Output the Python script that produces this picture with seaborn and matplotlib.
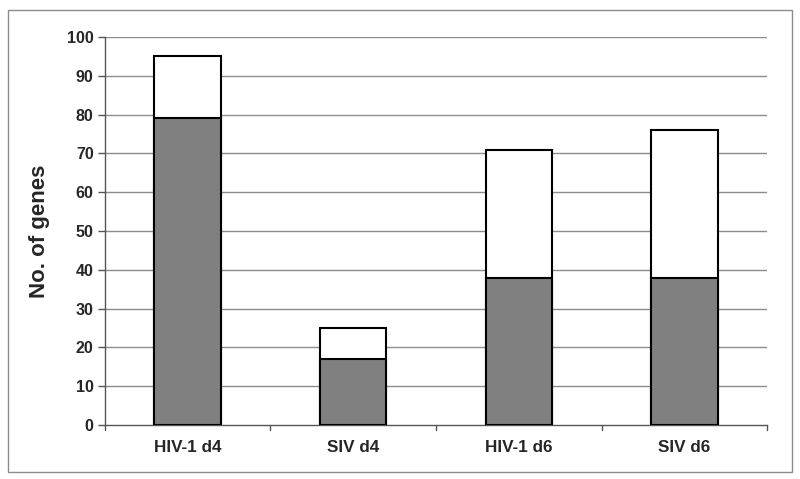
import matplotlib
matplotlib.use("Agg")
import matplotlib.pyplot as plt
import seaborn as sns
import pandas as pd
from matplotlib.patches import Rectangle

# ============================
# DATA
# ============================
groups = ["HIV-1 d4", "SIV d4", "HIV-1 d6", "SIV d6"]
total_genes = [95, 25, 71, 76]
shared_genes = [79, 17, 38, 38]
y_ticks = list(range(0, 101, 10))

df = pd.DataFrame({"group": groups, "total": total_genes, "shared": shared_genes})

sns.set_style("white")
plt.rcParams["font.family"] = ["Liberation Sans", "DejaVu Sans"]

fig = plt.figure(figsize=(8, 4.79), dpi=100)
ax = fig.add_axes([0.131, 0.1127, 0.828, 0.8101])

# gridlines behind bars
ax.set_axisbelow(True)
for t in y_ticks[1:]:
    ax.axhline(t, color="#8c8c8c", lw=1, zorder=0)

# white total bar, gray part on top
sns.barplot(data=df, x="group", y="total", color="white", edgecolor="black",
            linewidth=1.5, width=0.4, saturation=1, ax=ax, zorder=2)
sns.barplot(data=df, x="group", y="shared", color="#808080", edgecolor="black",
            linewidth=1.5, width=0.4, saturation=1, ax=ax, zorder=3)

ax.set_ylim(0, 100)
ax.set_xlim(-0.5, len(groups) - 0.5)
ax.set_yticks(y_ticks)
ax.set_yticklabels([str(t) for t in y_ticks], fontsize=11.5, fontweight="bold")
ax.set_xticks(range(len(groups)))
ax.set_xticklabels(groups, fontsize=12.3, fontweight="bold")
ax.tick_params(axis="x", length=0, pad=11)
ax.tick_params(axis="y", direction="out", length=5, color="#555555", width=1, pad=3, left=True)

# category separator ticks on x axis
for b in [i - 0.5 for i in range(len(groups) + 1)]:
    ax.plot([b, b], [0, -1.3], color="#555555", lw=1, clip_on=False, zorder=4)

ax.set_xlabel("")
ax.set_ylabel("No. of genes", fontsize=16, fontweight="bold", labelpad=12)

for s in ["top", "right"]:
    ax.spines[s].set_visible(False)
ax.spines["left"].set_color("#555555")
ax.spines["bottom"].set_color("#555555")
ax.spines["left"].set_linewidth(1)
ax.spines["bottom"].set_linewidth(1)

# outer frame
fig.patches.append(Rectangle((8 / 800, 7 / 479), 784 / 800, 462 / 479,
                             transform=fig.transFigure, fill=False,
                             edgecolor="#8c8c8c", lw=1))

fig.savefig("out.png", dpi=100)
